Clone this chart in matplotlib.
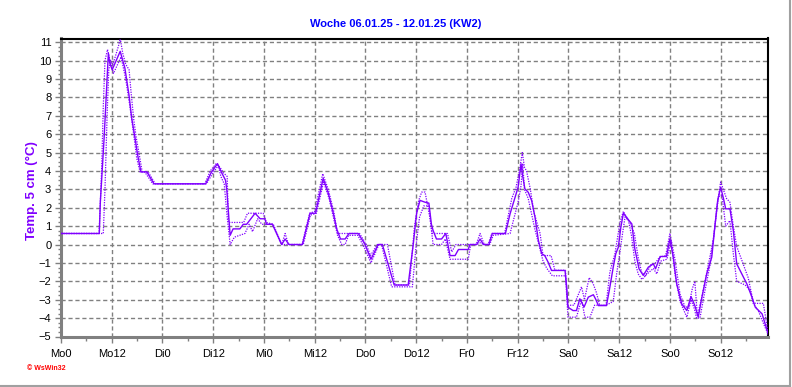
"""
Weekly 5 cm soil temperature chart (WsWin32 style), KW2 2025.
"""
import matplotlib
matplotlib.use("Agg")
import matplotlib.pyplot as plt
from matplotlib.lines import Line2D
from matplotlib.ticker import MultipleLocator

plt.rcParams["font.family"] = ["Liberation Sans", "DejaVu Sans"]

PURPLE = "#8000ff"
GRID = "#808080"

# hours since Monday 00:00 and temperature (°C)
main_h = [0, 9.06, 9.3, 10.2, 10.8, 11.2, 11.5, 12.1, 14.0, 15.1, 16.1, 16.7, 17.5, 18.1, 18.9,
          20.3, 22.0, 34.2, 35.5, 37.0, 38.0, 38.9, 39.2, 40.0, 40.7, 42.3, 43.1, 43.9, 45.9,
          47.1, 48.2, 48.6, 50.0, 52.2, 53.0, 53.9, 57.1, 58.9, 60.2, 62.0, 63.2, 64.4, 65.2,
          66.1, 67.2, 68.1, 70.3, 71.9, 73.3, 75.0, 76.0, 78.8, 82.1, 83.3, 84.1, 84.9, 86.1,
          87.0, 87.6, 88.0, 88.8, 90.0, 91.0, 92.0, 93.2, 94.0, 96.3, 96.7, 98.3, 99.1, 99.9,
          101.2, 102.0, 105.1, 106.2, 107.4, 108.1, 108.8, 109.1, 109.7, 110.5, 111.3, 112.1,
          112.9, 113.7, 114.4, 115.2, 116.0, 119.2, 119.6, 119.9, 121.1, 121.9, 122.7, 123.7,
          124.7, 125.9, 126.4, 127.1, 129.0, 129.8, 130.6, 131.2, 131.8, 132.4, 133.0, 134.0,
          135.0, 135.7, 136.7, 137.7, 138.9, 140.1, 140.6, 141.7, 143.2, 144.0, 144.8, 145.6,
          146.8, 148.0, 149.0, 149.9, 150.7, 151.5, 152.7, 153.9, 154.7, 155.3, 156.0, 156.6,
          157.2, 158.2, 159.0, 159.8, 161.0, 162.2, 163.4, 164.2, 165.8, 167.3]
main_t = [0.6, 0.6, 2.3, 5.8, 8.5, 10.4, 9.9, 9.5, 10.5, 9.6, 8.1, 6.9, 5.8, 4.9, 3.95,
          3.95, 3.3, 3.3, 3.9, 4.4, 3.9, 3.5, 3.0, 0.5, 0.85, 0.85, 1.1, 1.1, 1.7,
          1.4, 1.4, 1.1, 1.1, 0.0, 0.3, 0.0, 0.0, 1.7, 1.7, 3.6, 2.8, 1.7, 0.85,
          0.3, 0.3, 0.6, 0.6, 0.0, -0.8, 0.0, 0.0, -2.2, -2.2, 0.0, 1.7, 2.4, 2.3,
          2.25, 1.1, 0.76, 0.3, 0.3, 0.6, -0.6, -0.6, -0.27, -0.27, 0.0, 0.0, 0.3, 0.0,
          0.0, 0.6, 0.6, 1.67, 2.57, 3.11, 4.39, 3.84, 3.03, 2.84, 2.39, 1.48,
          0.22, -0.5, -0.6, -0.96, -1.41, -1.41, -2.32, -3.41, -3.59, -3.59, -2.95, -3.4,
          -2.86, -2.73, -2.95, -3.32, -3.32, -2.32, -1.23, -0.5, -0.15, 0.94, 1.7, 1.4,
          1.12, -0.23, -1.32, -1.68, -1.23, -1.05, -1.32, -0.65, -0.65, 0.31, -0.69, -2.14,
          -3.23, -3.59, -2.83, -3.32, -3.95, -2.95, -1.6, -0.69, 1.12, 2.39, 3.11, 2.57,
          1.94, 1.94, 0.76, -1.05, -1.6, -2.14, -2.86, -3.41, -3.77, -4.9]

hi_h = [0, 9.0, 9.6, 10.0, 10.4, 11.0, 11.6, 12.3, 13.6, 14.0, 14.6, 15.3, 16.1, 16.6, 17.2,
        17.8, 18.5, 19.2, 20.6, 22.3, 34.0, 35.3, 36.7, 37.6, 38.4, 39.3, 39.6, 43.2, 44.1,
        47.8, 48.6, 50.2, 52.2, 53.0, 53.8, 57.0, 58.8, 60.0, 61.9, 63.2, 64.5, 65.4, 67.4,
        68.3, 70.6, 72.2, 73.2, 74.8, 77.2, 79.0, 82.4, 83.6, 84.6, 85.3, 86.1, 87.2, 87.8,
        90.8, 91.4, 92.4, 93.4, 96.7, 98.2, 99.1, 100.1, 101.0, 101.9, 104.9, 106.6, 107.6,
        108.4, 109.1, 109.6, 110.1, 111.0, 111.8, 113.3, 114.0, 115.9, 116.8, 119.3, 119.8,
        121.3, 123.1, 123.8, 124.9, 125.8, 126.6, 127.4, 128.9, 129.8, 131.0, 132.2, 133.0,
        134.5, 135.6, 136.5, 137.3, 138.2, 139.5, 140.6, 141.5, 143.0, 144.0, 145.2, 146.4,
        147.6, 148.4, 149.3, 149.9, 150.5, 151.5, 153.0, 154.3, 155.2, 156.0, 157.4, 158.2,
        159.0, 159.8, 161.0, 162.5, 163.7, 164.2, 166.1, 167.3]
hi_t = [0.6, 0.6, 4.0, 7.5, 10.0, 10.6, 10.0, 9.8, 10.8, 11.2, 10.4, 9.8, 9.5, 8.2, 6.8,
        5.8, 4.9, 3.95, 3.95, 3.3, 3.3, 4.0, 4.4, 4.2, 3.9, 3.7, 1.2, 1.2, 1.7,
        1.7, 1.2, 1.1, 0.0, 0.6, 0.0, 0.0, 1.7, 1.8, 3.85, 3.0, 1.8, 0.6, 0.6,
        0.6, 0.6, 0.0, -0.6, 0.0, 0.0, -2.2, -2.2, 1.0, 2.4, 2.85, 2.85, 1.5, 0.6,
        0.6, 0.6, -0.4, 0.0, 0.0, 0.0, 0.6, 0.0, 0.0, 0.6, 0.6, 2.5, 3.1,
        4.0, 5.0, 4.2, 4.0, 3.0, 1.8, 0.6, -0.6, -0.6, -1.4, -1.4, -3.3,
        -3.3, -2.3, -3.0, -1.8, -2.1, -2.6, -3.3, -3.3, -1.5, -0.5, 1.2, 1.8,
        1.2, 0.6, -0.7, -1.5, -1.7, -1.1, -1.0, -0.7, -0.6, 0.6, -0.8, -2.7,
        -3.4, -3.4, -2.4, -2.0, -3.9, -2.9, -1.2, 0.3, 2.2, 3.4, 2.5, 2.3,
        1.0, -0.1, -0.85, -1.8, -3.1, -3.2, -3.2, -4.9]

lo_h = [0, 10.0, 10.4, 10.9, 11.3, 11.7, 12.4, 14.2, 15.3, 16.3, 17.3, 17.9, 18.7, 19.8, 21.7,
        34.4, 35.7, 37.2, 37.8, 38.6, 39.3, 40.0, 41.0, 43.5, 44.5, 45.3, 46.5, 47.5, 50.0,
        52.1, 54.0, 57.3, 59.0, 60.4, 62.1, 63.4, 64.6, 65.4, 66.4, 67.2, 68.0, 70.2, 71.8,
        73.3, 75.2, 75.8, 78.2, 83.1, 84.0, 84.8, 85.8, 87.0, 87.5, 88.0, 90.0, 90.9, 92.0,
        96.3, 96.9, 98.4, 99.2, 100.0, 101.4, 102.2, 106.2, 107.2, 108.1, 108.8, 109.2, 109.6,
        110.5, 112.1, 113.0, 114.0, 114.9, 116.2, 119.3, 119.9, 121.9, 123.1, 123.9, 125.1,
        126.2, 128.9, 130.6, 131.4, 132.0, 132.8, 133.4, 134.2, 134.9, 135.7, 136.5, 137.4,
        138.6, 140.1, 140.9, 141.8, 143.3, 144.3, 145.2, 146.4, 148.0, 149.0, 149.8, 150.3,
        151.1, 152.3, 153.5, 154.7, 155.5, 156.3, 157.2, 158.2, 159.0, 159.8, 161.8, 163.0,
        163.7, 164.9, 166.5, 167.3]
lo_t = [0.6, 0.6, 3.0, 7.0, 9.5, 10.0, 9.3, 10.2, 9.0, 7.5, 5.8, 4.7, 3.95, 3.95, 3.3,
        3.3, 3.8, 4.3, 3.7, 3.3, 1.5, 0.0, 0.4, 0.6, 1.1, 0.7, 1.4, 1.1, 1.1,
        0.0, 0.0, 0.0, 1.6, 1.7, 3.4, 2.5, 1.3, 0.5, 0.0, 0.0, 0.5, 0.5, -0.2,
        -1.0, 0.0, 0.0, -2.3, -2.3, 0.0, 1.5, 2.1, 2.1, 1.0, 0.0, 0.0, 0.3, -0.8,
        -0.8, 0.0, 0.0, 0.1, 0.0, 0.0, 0.5, 0.6, 1.5, 2.3, 3.2, 4.4, 3.0,
        2.5, 0.8, 0.0, -0.9, -1.3, -1.7, -1.7, -3.95, -3.95, -3.0, -3.95, -3.95,
        -3.3, -3.3, -3.1, -1.6, -0.7, 0.6, 1.5, 1.3, 0.5, -0.9, -1.6, -1.9,
        -1.6, -1.3, -1.6, -0.9, -0.8, 0.2, -1.6, -3.1, -3.95, -3.0, -3.5, -4.0,
        -4.0, -2.5, -1.1, 1.1, 2.6, 2.7, 1.0, 1.3, -0.5, -2.0, -2.2, -2.5,
        -3.2, -3.6, -4.5, -4.9]

x_ticks = [0, 12, 24, 36, 48, 60, 72, 84, 96, 108, 120, 132, 144, 156]
x_labels = ["Mo0", "Mo12", "Di0", "Di12", "Mi0", "Mi12", "Do0", "Do12",
            "Fr0", "Fr12", "Sa0", "Sa12", "So0", "So12"]
y_ticks = list(range(-5, 12))

W, H = 792, 387
fig = plt.figure(figsize=(W / 100, H / 100), dpi=100)
ax = fig.add_axes([61 / W, 1 - 336.5 / H, (768 - 61) / W, (336.5 - 38.5) / H])

ax.set_xlim(0, 167.2)
ax.set_ylim(-5, 11.2)

dotted = (0, (1, 1))
ax.plot(hi_h, hi_t, color=PURPLE, lw=0.9, linestyle=dotted, zorder=3)
ax.plot(lo_h, lo_t, color=PURPLE, lw=0.9, linestyle=dotted, zorder=3)
ax.plot(main_h, main_t, color=PURPLE, lw=1.0, zorder=4)

ax.set_xticks(x_ticks)
ax.set_xticklabels(x_labels)
ax.xaxis.set_minor_locator(MultipleLocator(6))
ax.set_yticks(y_ticks)
ax.yaxis.set_minor_locator(MultipleLocator(0.25))

ax.grid(True, which="major", color=GRID, linestyle=(0, (3, 2)), linewidth=1.0)
ax.tick_params(axis="both", which="major", labelsize=8, colors="black")
ax.tick_params(axis="x", which="major", direction="out", length=4, width=1,
               color=GRID, pad=5)
ax.tick_params(axis="x", which="minor", direction="out", length=3, width=1, color=GRID)
ax.tick_params(axis="y", which="major", direction="out", length=4, width=1,
               color=GRID, pad=3)
ax.tick_params(axis="y", which="minor", direction="out", length=2, width=1, color=GRID)

for side in ("left", "bottom"):
    ax.spines[side].set_color(GRID)
    ax.spines[side].set_linewidth(2.2)
for side in ("top", "right"):
    ax.spines[side].set_color("black")
    ax.spines[side].set_linewidth(1.5)

fig.text(0.5, 1 - 24 / H, "Woche 06.01.25 - 12.01.25 (KW2)", color="#0000ff",
         fontsize=8, fontweight="bold", ha="center", va="center")
fig.text(32 / W, 1 - 191 / H, "Temp. 5 cm (°C)", color=PURPLE, fontsize=9.5,
         fontweight="bold", rotation=90, ha="center", va="center")
fig.text(27 / W, 1 - 368 / H, "© WsWin32", color="red", fontsize=5,
         fontweight="bold", ha="left", va="center")

# outer frame shadow on right and bottom
fig.add_artist(Line2D([0, 790 / W], [1 - 386 / H, 1 - 386 / H],
                      transform=fig.transFigure, color="#a0a0a0", lw=1.5))
fig.add_artist(Line2D([790 / W, 790 / W], [1 - 386 / H, 1],
                      transform=fig.transFigure, color="#a0a0a0", lw=1.5))

fig.savefig("out.png", dpi=100, facecolor="white")
